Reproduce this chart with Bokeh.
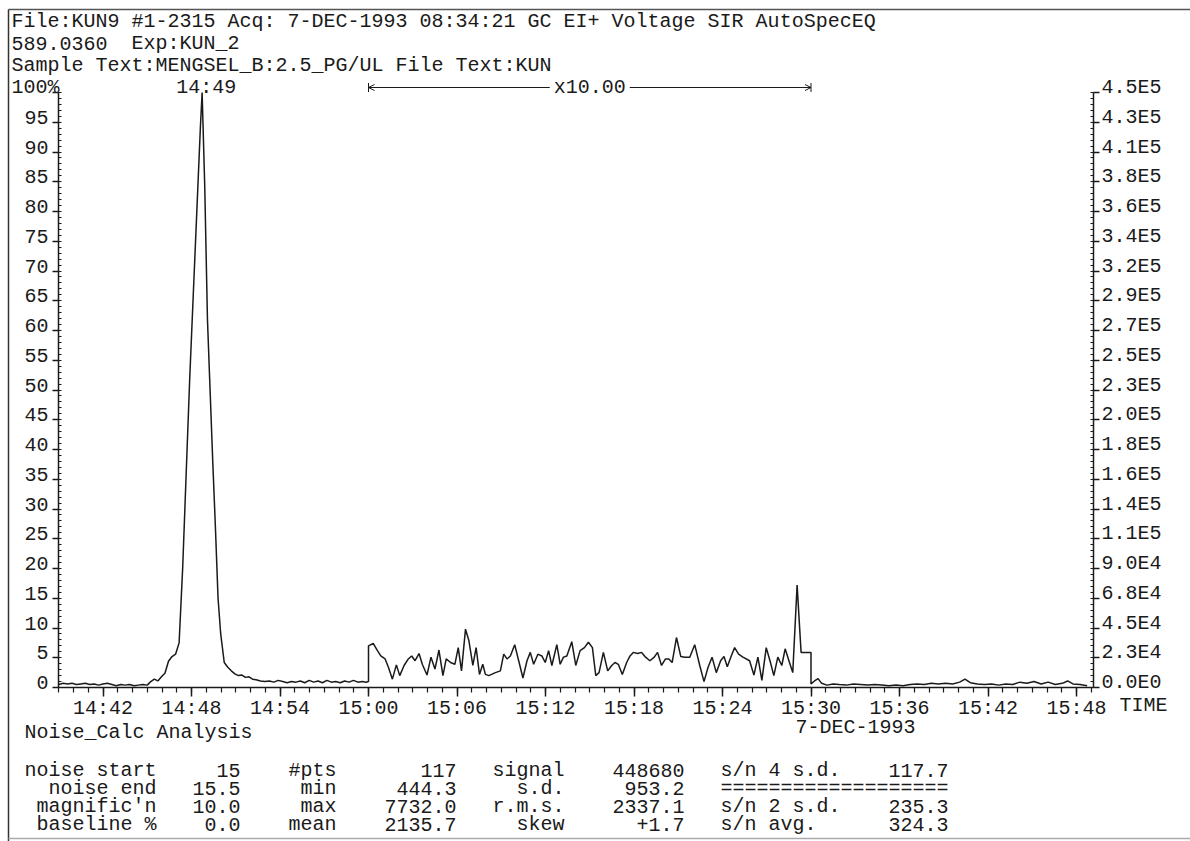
from bokeh.plotting import figure
from bokeh.models import FixedTicker, LinearAxis, Label, Arrow, TeeHead, OpenHead
from bokeh.embed import file_html
from bokeh.resources import INLINE

FONT = "Liberation Mono"
INK = "#1a1a1a"

# ---------------- run information ----------------
acq_date = "7-DEC-1993"
header_file = f"File:KUN9 #1-2315 Acq: {acq_date} 08:34:21 GC EI+ Voltage SIR AutoSpecEQ"
header_mass = "589.0360"
header_exp = "Exp:KUN_2"
header_sample = "Sample Text:MENGSEL_B:2.5_PG/UL File Text:KUN"
analysis_title = "Noise_Calc Analysis"

# ---------------- noise calculation results ----------------
noise_start_min = 15
noise_end_min = 15.5
magnification = 10.0
baseline_pct = 0.0
n_points = 117
noise_min = 444.3
noise_max = 7732.0
noise_mean = 2135.7
signal = 448680
noise_sd = 953.2
noise_rms = 2337.1
noise_skew = 1.7
sn_4sd = 117.7
sn_2sd = 235.3
sn_avg = 324.3

# ---------------- chromatogram (time in minutes, intensity in % of base peak) ----------------
# before the magnified window
pre_t = [14.650, 14.655, 14.660, 14.665, 14.670, 14.675, 14.680, 14.685, 14.690, 14.695,
         14.700, 14.705, 14.710, 14.715, 14.720, 14.725, 14.730, 14.735, 14.740, 14.745,
         14.750,
         14.754, 14.758, 14.762, 14.766, 14.770, 14.774, 14.778, 14.782, 14.786, 14.790,
         14.794, 14.798, 14.802, 14.806, 14.810, 14.812, 14.815, 14.818, 14.821, 14.824,
         14.827, 14.830, 14.833, 14.837, 14.841, 14.845, 14.849, 14.853, 14.857, 14.861,
         14.865, 14.869, 14.873, 14.878,
         14.883, 14.888, 14.893, 14.898, 14.903, 14.908, 14.913, 14.918, 14.923, 14.928,
         14.933, 14.938, 14.943, 14.948, 14.953, 14.958, 14.963, 14.968, 14.973, 14.978,
         14.983, 14.988, 14.993, 14.997, 15.000]
pre_pct = [0.5, 0.7, 0.6, 0.7, 0.5, 0.6, 0.7, 0.5, 0.6, 0.4,
           0.6, 0.7, 0.5, 0.3, 0.5, 0.4, 0.5, 0.3, 0.4, 0.5,
           0.4,
           1.0, 1.4, 1.1, 1.8, 2.4, 4.4, 5.2, 5.6, 7.5, 20,
           36, 52, 66, 80, 94, 100, 84, 62, 50, 38,
           27, 15, 9, 4.2, 3.4, 2.8, 2.3, 2.0, 2.1, 1.7,
           1.8, 1.4, 1.3, 1.1,
           1.0, 1.1, 0.9, 1.2, 1.0, 0.8, 1.0, 0.9, 1.1, 0.8,
           1.2, 0.9, 1.1, 0.8, 1.2, 0.9, 1.0, 0.8, 1.1, 0.9,
           1.2, 0.9, 1.0, 0.9, 1.0]

# noise window (unmagnified % of base peak)
win_t = [15.0000, 15.0053, 15.0101, 15.0139, 15.0188, 15.0225, 15.0270, 15.0315, 15.0353, 15.0402,
         15.0450, 15.0488, 15.0526, 15.0571, 15.0608, 15.0661, 15.0706, 15.0751, 15.0796, 15.0841,
         15.0878, 15.0927, 15.0976, 15.1014, 15.1051, 15.1096, 15.1134, 15.1179, 15.1216, 15.1254,
         15.1291, 15.1321, 15.1359, 15.1434, 15.1490, 15.1528, 15.1565, 15.1603, 15.1652, 15.1697,
         15.1745, 15.1791, 15.1828, 15.1866, 15.1914, 15.1959, 15.1997, 15.2035, 15.2072, 15.2128,
         15.2166, 15.2203, 15.2241, 15.2297, 15.2342, 15.2391, 15.2440, 15.2485, 15.2530, 15.2568,
         15.2605, 15.2654, 15.2703, 15.2748, 15.2785, 15.2823, 15.2868, 15.2917, 15.2955, 15.2992,
         15.3041, 15.3086, 15.3131, 15.3180, 15.3229, 15.3266, 15.3311, 15.3356, 15.3394, 15.3431,
         15.3480, 15.3529, 15.3574, 15.3630, 15.3686, 15.3743, 15.3791, 15.3837, 15.3882, 15.3930,
         15.3979, 15.4017, 15.4054, 15.4099, 15.4137, 15.4182, 15.4231, 15.4306, 15.4355, 15.4400,
         15.4445, 15.4494, 15.4542, 15.4580, 15.4625, 15.4670, 15.4708, 15.4757, 15.4794, 15.4843,
         15.4888, 15.4944, 15.5000]
win_pct = [0.70, 0.74, 0.62, 0.53, 0.48, 0.34, 0.14, 0.38, 0.20, 0.37,
           0.48, 0.53, 0.45, 0.57, 0.39, 0.21, 0.51, 0.31, 0.63, 0.20,
           0.48, 0.42, 0.39, 0.67, 0.28, 0.98, 0.79, 0.37, 0.67, 0.22,
           0.39, 0.22, 0.20, 0.25, 0.28, 0.56, 0.48, 0.53, 0.72, 0.45,
           0.16, 0.45, 0.59, 0.39, 0.56, 0.53, 0.42, 0.62, 0.37, 0.72,
           0.39, 0.51, 0.53, 0.77, 0.37, 0.62, 0.67, 0.76, 0.67, 0.20,
           0.25, 0.59, 0.28, 0.37, 0.42, 0.39, 0.22, 0.42, 0.53, 0.59,
           0.57, 0.59, 0.51, 0.45, 0.51, 0.59, 0.37, 0.48, 0.48, 0.42,
           0.84, 0.52, 0.51, 0.51, 0.72, 0.37, noise_min / signal * 100, 0.34, 0.51, 0.25,
           0.45, 0.52, 0.35, 0.53, 0.67, 0.56, 0.51, 0.45, 0.21, 0.51,
           0.12, 0.67, 0.42, 0.20, 0.51, 0.37, 0.65, 0.42, 0.25, noise_max / signal * 100,
           0.59, 0.59, 0.59]

# after the magnified window
post_t = [15.500, 15.504, 15.508, 15.512, 15.518, 15.525, 15.532, 15.540, 15.548, 15.556,
          15.564, 15.572, 15.580, 15.588, 15.596, 15.604, 15.612, 15.620, 15.628, 15.636,
          15.644, 15.652, 15.660, 15.668, 15.674, 15.680, 15.688, 15.696, 15.704, 15.712,
          15.720, 15.728, 15.736, 15.744, 15.752, 15.760, 15.768, 15.776, 15.784, 15.790,
          15.796, 15.804, 15.812]
post_pct = [0.6, 1.1, 1.5, 0.7, 0.4, 0.6, 0.5, 0.4, 0.6, 0.5,
            0.4, 0.5, 0.4, 0.3, 0.4, 0.3, 0.5, 0.6, 0.5, 0.7,
            0.6, 0.7, 0.6, 0.9, 1.4, 0.8, 0.6, 0.5, 0.6, 0.4,
            0.6, 0.5, 0.9, 0.7, 1.0, 0.6, 0.9, 0.5, 0.7, 1.1,
            0.6, 0.5, 0.3]

# ---------------- axes ----------------
x_ticks_s = [882, 888, 894, 900, 906, 912, 918, 924, 930, 936, 942, 948]
x_tick_labels = ["14:42", "14:48", "14:54", "15:00", "15:06", "15:12",
                 "15:18", "15:24", "15:30", "15:36", "15:42", "15:48"]
y_ticks = [0, 5, 10, 15, 20, 25, 30, 35, 40, 45, 50, 55, 60, 65, 70, 75, 80, 85, 90, 95, 100]
y_left_labels = ["0", "5", "10", "15", "20", "25", "30", "35", "40", "45", "50",
                 "55", "60", "65", "70", "75", "80", "85", "90", "95", "100%"]
y_right_labels = ["0.0E0", "2.3E4", "4.5E4", "6.8E4", "9.0E4", "1.1E5", "1.4E5", "1.6E5",
                  "1.8E5", "2.0E5", "2.3E5", "2.5E5", "2.7E5", "2.9E5", "3.2E5", "3.4E5",
                  "3.6E5", "3.8E5", "4.1E5", "4.3E5", "4.5E5"]

# ---------------- page geometry ----------------
# The plot frame fills the whole sheet; the chart box sits inside it.
W, H = 1190, 841
BOX_L, BOX_R, BOX_T, BOX_B = 58, 1093, 92, 687
PX_PER_S = 14.75
S_AT_PX = (900, 368)           # 15:00 sits at this page column
X_START = S_AT_PX[0] - (S_AT_PX[1] - BOX_L) / PX_PER_S
X_END = S_AT_PX[0] + (BOX_R - S_AT_PX[1]) / PX_PER_S


def px_x(px):
    return X_START + (px - BOX_L) / PX_PER_S


def px_y(py):
    return (BOX_B - py) * 100.0 / (BOX_B - BOX_T)


p = figure(width=W, height=H, x_range=(px_x(0), px_x(W)), y_range=(px_y(H), px_y(0)),
           output_backend="svg", toolbar_location=None,
           x_axis_location=None, y_axis_location=None,
           min_border=0, min_border_left=0, min_border_right=0,
           min_border_top=0, min_border_bottom=0)
p.title.visible = False
p.outline_line_color = None
p.grid.visible = False
p.background_fill_color = "white"
p.border_fill_color = "white"

# trace: window values shown at the stated magnification
trace_x = [t * 60 for t in pre_t] + [t * 60 for t in win_t] + [t * 60 for t in post_t]
trace_y = pre_pct + [v * magnification for v in win_pct] + post_pct
p.line(trace_x, trace_y, line_color=INK, line_width=1.5)


def style_axis(a):
    a.axis_line_color = INK
    a.axis_line_width = 1.5
    a.major_tick_line_color = INK
    a.minor_tick_line_color = INK
    a.major_tick_line_width = 1.5
    a.minor_tick_line_width = 1.2
    a.major_label_text_font = FONT
    a.major_label_text_font_size = "20px"
    a.major_label_text_color = INK


# bottom time axis
xa = LinearAxis(fixed_location=0, bounds=(X_START, X_END),
                ticker=FixedTicker(ticks=x_ticks_s, minor_ticks=list(range(879, 950))))
style_axis(xa)
xa.major_label_overrides = dict(zip(x_ticks_s, x_tick_labels))
xa.major_tick_out = 9
xa.major_tick_in = 0
xa.minor_tick_out = 5
xa.minor_tick_in = 0
xa.major_label_standoff = 0
p.add_layout(xa, "below")

# left % axis and right intensity axis
for side, loc in (("left", X_START), ("right", X_END)):
    ax = LinearAxis(fixed_location=loc, bounds=(0, 100),
                    ticker=FixedTicker(ticks=y_ticks, minor_ticks=list(range(0, 101))))
    style_axis(ax)
    ax.major_label_text_color = None
    ax.major_tick_out = 6
    ax.major_tick_in = 0
    ax.minor_tick_in = 3
    ax.minor_tick_out = 0
    p.add_layout(ax, side)


def text(px, py, s, align="left", size="20px", **kw):
    p.add_layout(Label(x=px_x(px), y=px_y(py), text=s, text_align=align,
                       text_baseline="middle", text_font=FONT, text_font_size=size,
                       text_color=INK, **kw))


# y tick labels sit just above their ticks
px_per_pct = (BOX_B - BOX_T) / 100.0
for tick, lab_l, lab_r in zip(y_ticks, y_left_labels, y_right_labels):
    ty = BOX_B - tick * px_per_pct - 5
    if lab_l.endswith("%"):
        text(BOX_L + 1, ty, lab_l, align="right")
    else:
        text(BOX_L - 10, ty, lab_l, align="right")
    text(BOX_R + 8, ty, lab_r, align="left")

text(BOX_R + 26, 705, "TIME")

# header
text(11, 21, header_file)
text(11, 43, header_mass)
text(11 + 10 * 12, 43, header_exp)
text(11, 65, header_sample)

# apex retention time
apex_i = pre_pct.index(max(pre_pct))
apex_s = round(pre_t[apex_i] * 60)
p.add_layout(Label(x=apex_s, y=px_y(87), text=f"{apex_s // 60}:{apex_s % 60:02d}",
                   text_align="center", text_baseline="middle", text_font=FONT,
                   text_font_size="20px", text_color=INK))

# magnified window bracket
row_y = px_y(87)
win_x0, win_x1 = noise_start_min * 60, noise_end_min * 60
p.add_layout(Arrow(x_start=win_x0, y_start=row_y, x_end=win_x1, y_end=row_y,
                   line_color=INK, line_width=1.0,
                   start=TeeHead(size=9, line_color=INK, line_width=1.0),
                   end=TeeHead(size=9, line_color=INK, line_width=1.0)))
p.add_layout(Arrow(x_start=win_x0, y_start=row_y, x_end=win_x1, y_end=row_y,
                   line_color=INK, line_width=1.0,
                   start=OpenHead(size=6, line_color=INK, line_width=1.0),
                   end=OpenHead(size=6, line_color=INK, line_width=1.0)))
p.add_layout(Label(x=(win_x0 + win_x1) / 2, y=row_y, text=f"x{magnification:.2f}",
                   text_align="center", text_baseline="middle", text_font=FONT,
                   text_font_size="20px", text_color=INK,
                   background_fill_color="white", padding=4))

# footer
text(855, 727, acq_date, align="center")
text(24, 732, analysis_title)

col_a = ["noise start", "noise end", "magnific'n", "baseline %"]
col_b = [f"{noise_start_min}", f"{noise_end_min}", f"{magnification:.1f}", f"{baseline_pct:.1f}"]
col_c = ["#pts", "min", "max", "mean"]
col_d = [f"{n_points}", f"{noise_min:.1f}", f"{noise_max:.1f}", f"{noise_mean:.1f}"]
col_e = ["signal", "s.d.", "r.m.s.", "skew"]
col_f = [f"{signal}", f"{noise_sd:.1f}", f"{noise_rms:.1f}", f"{noise_skew:+.1f}"]
col_g = ["s/n 4 s.d.", "=" * 19, "s/n 2 s.d.", "s/n avg."]
col_h = [f"{sn_4sd:.1f}", "", f"{sn_2sd:.1f}", f"{sn_avg:.1f}"]

row_py = [770, 788, 806, 824]
CH = 12  # monospace advance
x0 = 24
for i, ry in enumerate(row_py):
    text(x0 + 11 * CH, ry, col_a[i], align="right")
    text(x0 + 18 * CH, ry, col_b[i], align="right")
    text(x0 + 26 * CH, ry, col_c[i], align="right")
    text(x0 + 36 * CH, ry, col_d[i], align="right")
    text(x0 + 45 * CH, ry, col_e[i], align="right")
    text(x0 + 55 * CH, ry, col_f[i], align="right")
    text(x0 + 58 * CH, ry, col_g[i], align="left")
    if col_h[i]:
        text(x0 + 77 * CH, ry, col_h[i], align="right")

# page edges of the printout
for (ax_, ay, bx, by, col) in [(8, 9, W, 9, "#555555"), (8, 9, 8, H, "#333333"),
                               (8, 838, W, 838, "#aaaaaa")]:
    p.add_layout(Arrow(x_start=px_x(ax_), y_start=px_y(ay), x_end=px_x(bx), y_end=px_y(by),
                       end=None, line_color=col, line_width=1.5))

open("out.html", "w").write(file_html(p, INLINE))
